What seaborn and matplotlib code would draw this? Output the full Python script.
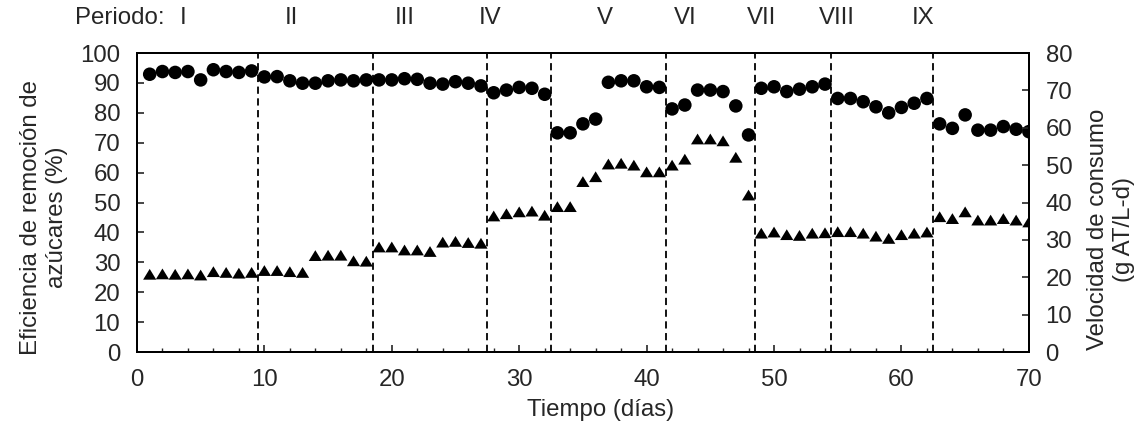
import matplotlib

matplotlib.use("Agg")
import matplotlib.pyplot as plt
import pandas as pd
import seaborn as sns
from matplotlib.ticker import MultipleLocator

# data
days = list(range(1, 71))
eficiencia = [
    92.9, 93.8, 93.5, 93.8, 91.0, 94.4, 93.8, 93.5, 94.0, 92.0,
    92.1, 90.7, 89.9, 89.9, 90.7, 91.0, 90.7, 91.0, 91.0, 91.0,
    91.4, 91.2, 89.9, 89.6, 90.4, 89.9, 89.0, 86.7, 87.6, 88.5,
    88.2, 86.2, 73.3, 73.3, 76.3, 77.9, 90.2, 90.7, 90.7, 88.7,
    88.5, 81.3, 82.6, 87.6, 87.6, 87.1, 82.3, 72.6, 88.2, 88.7,
    87.1, 87.9, 88.7, 89.6, 84.8, 84.8, 83.7, 82.0, 80.0, 81.8,
    83.2, 84.8, 76.3, 74.8, 79.3, 74.2, 74.2, 75.4, 74.5, 73.7,
]
velocidad = [
    20.8, 20.9, 20.8, 20.9, 20.6, 21.5, 21.3, 21.1, 21.3, 21.8,
    21.8, 21.5, 21.3, 25.8, 25.9, 25.9, 24.4, 24.3, 28.1, 28.1,
    27.3, 27.3, 26.9, 29.4, 29.6, 29.3, 29.1, 36.4, 37.0, 37.5,
    37.7, 36.6, 38.9, 38.9, 45.6, 46.9, 50.3, 50.5, 50.0, 48.2,
    48.2, 50.0, 51.6, 57.0, 57.0, 56.5, 52.1, 42.0, 31.8, 32.1,
    31.4, 31.2, 31.8, 31.9, 32.2, 32.2, 31.8, 31.0, 30.4, 31.4,
    31.8, 32.1, 36.2, 35.7, 37.5, 35.3, 35.3, 35.7, 35.3, 34.8,
]
cambios_periodo = [9.5, 18.5, 27.5, 32.5, 41.5, 48.5, 54.5, 62.5]
periodos = ["I", "II", "III", "IV", "V", "VI", "VII", "VIII", "IX"]
periodo_x = [3.6, 12.1, 21.0, 27.7, 36.7, 43.0, 49.0, 54.9, 61.7]

df = pd.DataFrame({"dia": days, "eficiencia": eficiencia, "velocidad": velocidad})

FS = 17.3

sns.set_style("ticks")
plt.rcParams["font.family"] = ["Liberation Sans", "DejaVu Sans"]
plt.rcParams["font.size"] = FS

fig = plt.figure(figsize=(11.47, 4.23), dpi=100)
ax = fig.add_axes([0.1194, 0.1678, 0.7776, 0.7069])
ax2 = ax.twinx()

for x in cambios_periodo:
    ax.axvline(x, color="black", lw=1.3, ls=(0, (4, 2.5)), zorder=1)

sns.scatterplot(data=df, x="dia", y="eficiencia", ax=ax, color="black",
                marker="o", s=95, edgecolor="none", zorder=3)
tri = [(-1, -0.82), (1, -0.82), (0, 0.82)]
sns.scatterplot(data=df, x="dia", y="velocidad", ax=ax2, color="black",
                marker=tri, s=90, edgecolor="none", zorder=3)

ax.set_xlim(0, 70)
ax.set_ylim(0, 100)
ax2.set_ylim(0, 80)
ax.xaxis.set_major_locator(MultipleLocator(10))
ax.xaxis.set_minor_locator(MultipleLocator(2))
ax.yaxis.set_major_locator(MultipleLocator(10))
ax2.yaxis.set_major_locator(MultipleLocator(10))

for a in (ax, ax2):
    for sp in a.spines.values():
        sp.set_linewidth(1.4)
        sp.set_color("black")
ax.tick_params(axis="both", which="major", direction="in", length=5, width=1.2, pad=12,
               labelsize=FS, top=False, right=False)
ax.tick_params(axis="x", which="minor", direction="in", length=3, width=1.0, top=False)
ax2.tick_params(axis="y", which="major", direction="in", length=5, width=1.2, pad=12,
                labelsize=FS)

ax.set_xlabel("Tiempo (días)", fontsize=FS)
ax.xaxis.set_label_coords(0.52, -0.158)
ax.set_ylabel("Eficiencia de remoción de\nazúcares (%)", fontsize=FS, linespacing=1.25)
ax.yaxis.set_label_coords(-0.077, 0.45)
ax2.set_ylabel("Velocidad de consumo\n(g AT/L-d)", fontsize=FS, linespacing=1.25,
               rotation=90)
ax2.yaxis.set_label_coords(1.065, 0.41)

trans = ax.get_xaxis_transform()
ax.text(-4.9, 1.117, "Periodo:", transform=trans, ha="left", va="center",
        fontsize=FS, clip_on=False)
for name, xpos in zip(periodos, periodo_x):
    ax.text(xpos, 1.117, name, transform=trans, ha="center", va="center",
            fontsize=FS, clip_on=False)

fig.savefig("out.png", dpi=100)
